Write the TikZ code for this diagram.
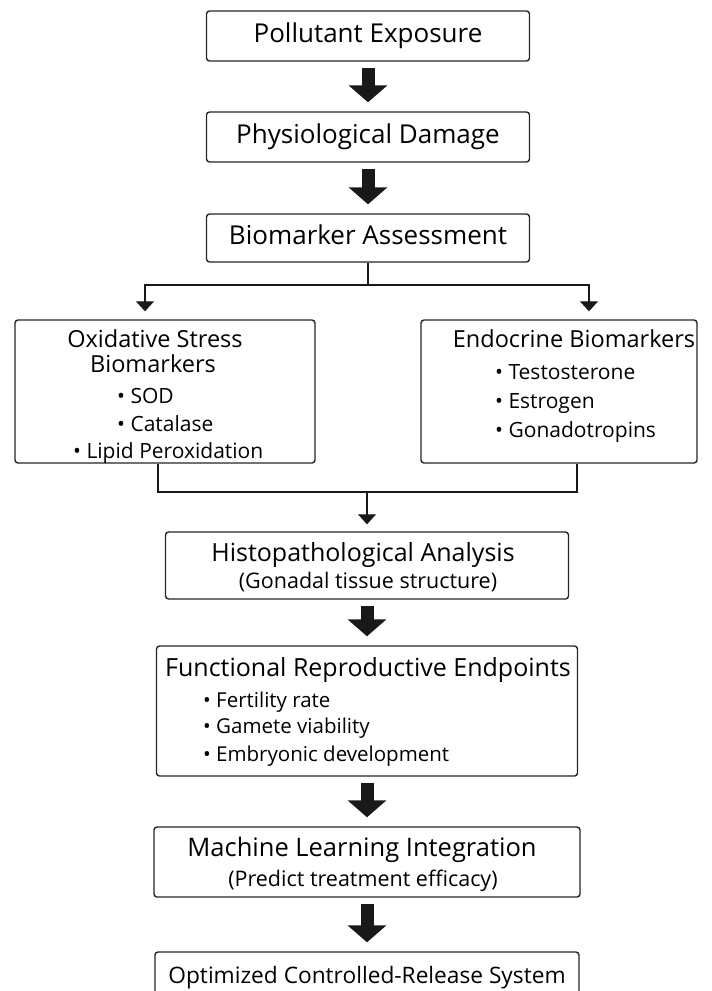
\documentclass[tikz,border=0pt]{standalone}
\usepackage{fontspec}
\setmainfont{Open Sans}
\usetikzlibrary{arrows.meta}

\begin{document}
\begin{tikzpicture}[x=1pt,y=-1pt,
  box/.style={draw=black!85, line width=1.4pt, rounded corners=3pt, fill=white},
  stepbox/.style={box, minimum width=323pt, minimum height=50pt, text height=18pt, text depth=5pt, font=\fontsize{26}{30}\selectfont},
  headtxt/.style={anchor=base, inner sep=0pt, font=\fontsize{25}{29}\selectfont},
  subtxt/.style={anchor=base, inner sep=0pt, font=\fontsize{21.5}{25}\selectfont},
  itemtxt/.style={anchor=base west, inner sep=0pt, font=\fontsize{21}{25}\selectfont},
  fat/.style={draw=black!90, line width=13pt, -{Triangle[width=38pt,length=17pt]}, shorten <=6pt, shorten >=9pt},
  conn/.style={draw=black!90, line width=1.3pt},
  arr/.style={conn, -{Triangle[width=18pt,length=10pt]}}]
\clip (0,0) rectangle (712,991);
\fill[white] (0,0) rectangle (712,991);

\node[stepbox] (expo) at (368,36) {Pollutant Exposure};
\node[stepbox] (damage) at (368,137) {Physiological Damage};
\node[stepbox, minimum height=48pt] (assess) at (368,238) {Biomarker Assessment};
\draw[fat] (expo) -- (damage);
\draw[fat] (damage) -- (assess);

\node[box, minimum width=300pt, minimum height=143pt] (oxi) at (165,391.5) {};
\node[headtxt, font=\fontsize{23.5}{27}\selectfont] (oxi-t1) at (155,347) {Oxidative Stress};
\node[headtxt, font=\fontsize{23.5}{27}\selectfont] (oxi-t2) at (153,372) {Biomarkers};
\node[itemtxt] (oxi-1) at (117,403) {\textbullet\ SOD};
\node[itemtxt] (oxi-2) at (117,431) {\textbullet\ Catalase};
\node[itemtxt] (oxi-3) at (73,458) {\textbullet\ Lipid Peroxidation};

\node[box, minimum width=276pt, minimum height=143pt] (endo) at (559,391.5) {};
\node[headtxt, font=\fontsize{23.5}{27}\selectfont] (endo-t) at (574,347) {Endocrine Biomarkers};
\node[itemtxt] (endo-1) at (495,379) {\textbullet\ Testosterone};
\node[itemtxt] (endo-2) at (495,408) {\textbullet\ Estrogen};
\node[itemtxt] (endo-3) at (495,437) {\textbullet\ Gonadotropins};

\coordinate (split) at (368,285);
\coordinate (join) at (367,492);
\draw[conn] (assess) -- (split);
\draw[arr, shorten >=8pt] (split) -| ([xshift=-20pt]oxi.north);
\draw[arr, shorten >=8pt] (split) -| ([xshift=30pt]endo.north);
\draw[conn] ([xshift=-7pt]oxi.south) |- (join);
\draw[conn] ([xshift=18pt]endo.south) |- (join);

\node[box, minimum width=403pt, minimum height=67pt] (histo) at (367,565.5) {};
\node[headtxt] (histo-t) at (363,561) {Histopathological Analysis};
\node[subtxt] (histo-s) at (368,588) {(Gonadal tissue structure)};
\draw[arr, shorten >=7pt] (join) -- (histo.north);

\node[box, minimum width=421pt, minimum height=130pt] (func) at (367,711) {};
\node[headtxt] (func-t) at (368,676) {Functional Reproductive Endpoints};
\node[itemtxt, font=\fontsize{20.5}{24}\selectfont] (func-1) at (203,707) {\textbullet\ Fertility rate};
\node[itemtxt, font=\fontsize{20.5}{24}\selectfont] (func-2) at (203,733) {\textbullet\ Gamete viability};
\node[itemtxt, font=\fontsize{20.5}{24}\selectfont] (func-3) at (203,761) {\textbullet\ Embryonic development};
\draw[fat] (histo) -- (func);

\node[box, minimum width=426pt, minimum height=70pt] (ml) at (367,862) {};
\node[headtxt, font=\fontsize{25.5}{29}\selectfont] (ml-t) at (362,856) {Machine Learning Integration};
\node[subtxt] (ml-s) at (363,886) {(Predict treatment efficacy)};
\draw[fat] (func) -- (ml);

\node[stepbox, minimum width=424pt, font=\fontsize{22.7}{26}\selectfont] (opt) at (367,977) {Optimized Controlled-Release System};
\draw[fat] (ml) -- (opt);
\end{tikzpicture}
\end{document}
